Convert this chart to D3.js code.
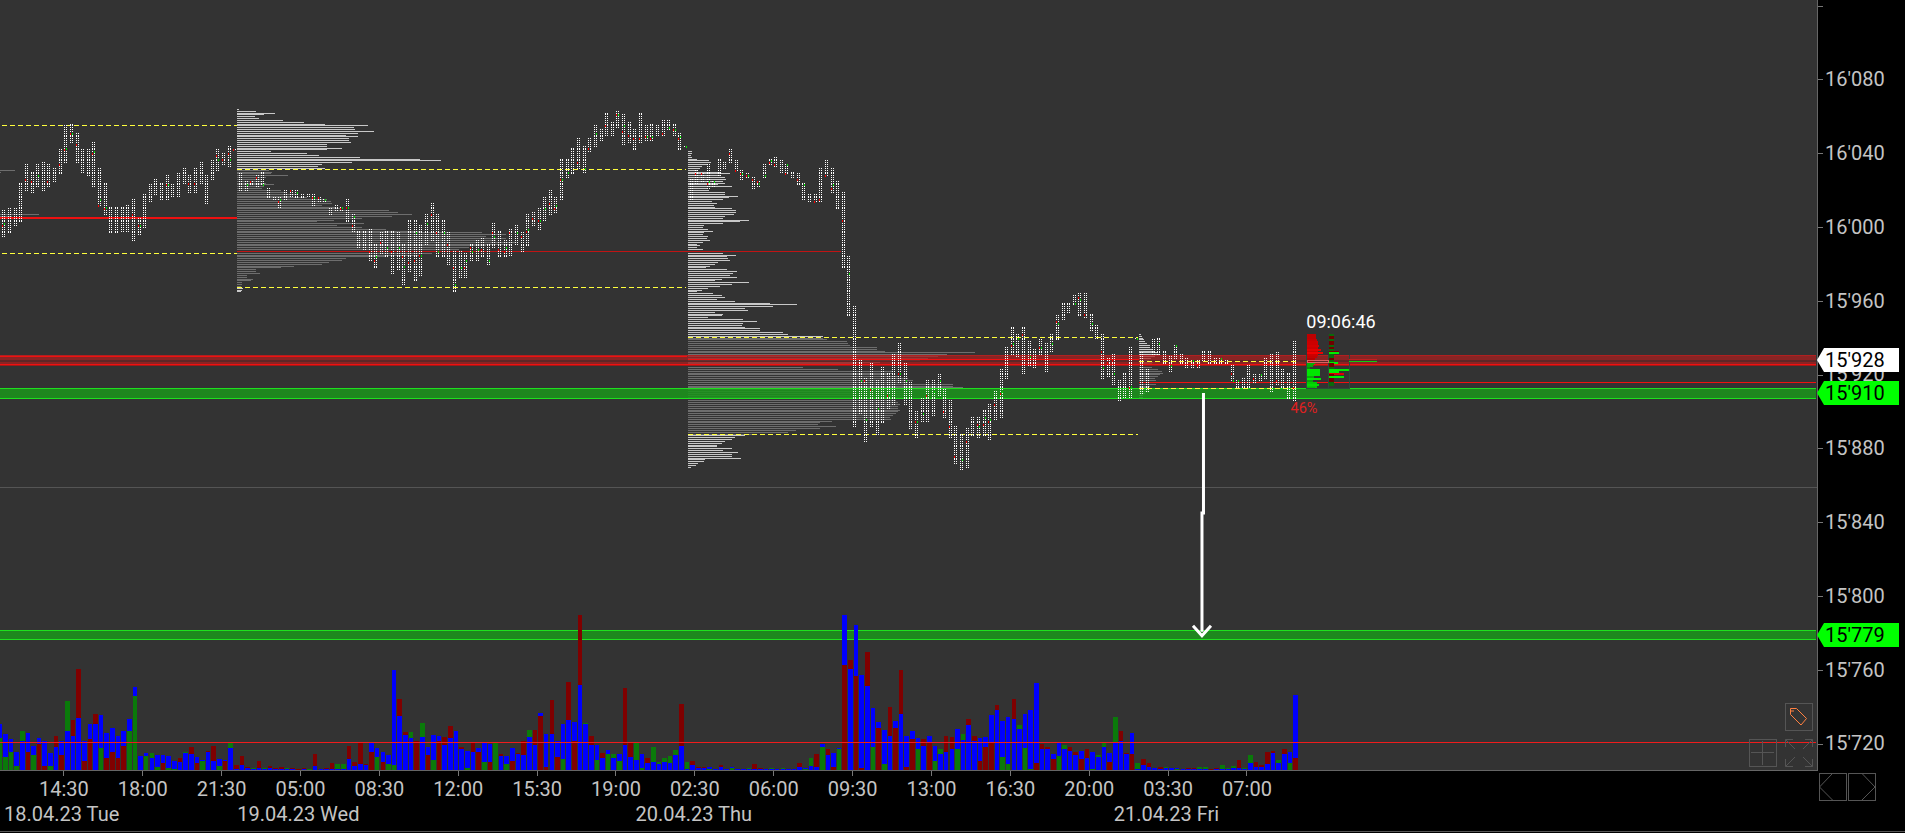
<!DOCTYPE html>
<html><head><meta charset="utf-8">
<script src="https://cdn.jsdelivr.net/npm/d3@7"></script>
<style>html,body{margin:0;padding:0;background:#000;overflow:hidden}svg{display:block}text{font-family:Roboto,sans-serif}</style>
</head><body><svg id="c" width="1905" height="833"></svg>
<script>
const priceTicks=[16120,16080,16040,16000,15960,15920,15880,15840,15800,15760,15720];
const timeLabels=["14:30","18:00","21:30","05:00","08:30","12:00","15:30","19:00","02:30","06:00","09:30","13:00","16:30","20:00","03:30","07:00"];
const dateLabels=[["18.04.23 Tue",11],["19.04.23 Wed",53],["20.04.23 Thu",123.2],["21.04.23 Fri",207.1]];
const highs=[16008,16009,16010,16010,16024,16034,16030,16034,16035,16034,16032,16042,16055,16056,16051,16042,16042,16046,16032,16024,16011,16011,16011,16012,16015,16005,16018,16023,16026,16024,16028,16023,16029,16032,16028,16032,16035,16028,16036,16042,16040,16044,16042,16029,16025,16025,16028,16030,16021,16016,16016,16020,16020,16020,16018,16018,16018,16016,16015,16010,16012,16011,16015,16007,15998,15998,15999,15991,15997,15998,15998,15997,15991,16004,16004,16001,16007,16013,16007,16004,15997,15987,15987,15986,15991,15993,15994,15991,16002,15998,15993,15999,16001,15997,16007,16008,16010,16016,16020,16016,16037,16037,16043,16048,16044,16048,16055,16053,16062,16057,16063,16061,16057,16053,16062,16055,16056,16055,16058,16058,16056,16051,16044,16026,16031,16029,16034,16025,16037,16035,16042,16036,16031,16029,16027,16025,16034,16037,16038,16036,16034,16030,16029,16024,16018,16018,16032,16036,16032,16025,16019,15984,15957,15928,15918,15926,15917,15924,15921,15931,15937,15926,15916,15900,15907,15917,15917,15920,15912,15906,15892,15888,15891,15897,15897,15901,15904,15911,15923,15935,15946,15942,15946,15938,15934,15939,15937,15942,15952,15959,15959,15963,15964,15964,15953,15947,15942,15929,15931,15917,15921,15935,15940,15932,15923,15939,15940,15933,15930,15936,15931,15929,15928,15928,15933,15933,15929,15929,15928,15925,15917,15918,15925,15920,15920,15929,15931,15932,15923,15921,15938];
const lows=[15996,15995,15997,16001,16003,16020,16019,16022,16020,16022,16025,16029,16035,16046,16035,16030,16028,16022,16012,16007,15997,15997,15998,15998,15993,15996,16000,16014,16018,16015,16015,16017,16017,16024,16019,16019,16024,16013,16026,16031,16034,16033,16042,16020,16020,16023,16022,16023,16016,16015,16011,16015,16017,16016,16016,16017,16012,16014,16014,16007,16009,16009,16003,15998,15989,15988,15982,15978,15986,15984,15975,15977,15969,15976,15971,15974,15991,15993,15984,15984,15980,15965,15973,15973,15982,15982,15984,15980,15989,15984,15984,15985,15991,15987,15990,16001,15999,16004,16007,16008,16015,16027,16029,16032,16030,16041,16044,16047,16050,16050,16054,16045,16046,16042,16046,16047,16047,16050,16050,16053,16050,16042,16044,16015,16024,16025,16021,16022,16028,16032,16035,16031,16026,16027,16021,16022,16027,16034,16033,16030,16029,16027,16023,16015,16014,16014,16014,16028,16019,16010,15978,15952,15892,15899,15884,15892,15888,15894,15902,15904,15916,15904,15891,15886,15895,15895,15898,15909,15897,15886,15872,15869,15870,15887,15886,15887,15885,15896,15897,15918,15931,15930,15921,15925,15924,15931,15922,15933,15939,15950,15954,15958,15952,15951,15944,15940,15918,15919,15915,15906,15908,15908,15940,15910,15911,15931,15931,15926,15922,15929,15926,15924,15924,15924,15928,15926,15926,15926,15926,15917,15913,15913,15913,15916,15917,15918,15911,15915,15913,15907,15906];
const redCells=[[1,16001],[5,16026],[6,16025],[9,16025],[11,16034],[12,16042],[13,16051],[14,16045],[17,16040],[18,16012],[19,16010],[24,16007],[25,16001],[30,16023],[34,16024],[35,16024],[39,16039],[40,16037],[41,16040],[42,16042],[45,16025],[46,16027],[50,16014],[52,16020],[56,16016],[57,16016],[61,16010],[62,16011],[63,16001],[66,15987],[67,15982],[68,15992],[70,15987],[72,15984],[73,15981],[74,15982],[75,15985],[77,16007],[78,15997],[80,15991],[81,15978],[83,15978],[84,15989],[86,15988],[88,15997],[89,15988],[90,15987],[91,15997],[93,15995],[94,15998],[95,16005],[96,16004],[98,16013],[99,16010],[100,16026],[103,16035],[105,16043],[108,16055],[110,16061],[111,16052],[112,16050],[113,16048],[114,16048],[115,16049],[116,16048],[118,16051],[120,16053],[121,16048],[124,16029],[125,16029],[126,16024],[130,16040],[131,16031],[132,16029],[133,16028],[134,16026],[135,16025],[137,16035],[138,16034],[140,16029],[142,16026],[145,16014],[146,16015],[147,16028],[148,16021],[150,16004],[154,15917],[155,15912],[158,15909],[160,15921],[163,15895],[165,15909],[168,15900],[169,15892],[170,15876],[172,15884],[174,15893],[175,15893],[176,15895],[177,15904],[178,15910],[180,15936],[182,15942],[185,15935],[188,15949],[192,15962],[193,15953],[196,15933],[197,15927],[198,15928],[201,15913],[213,15925],[219,15921],[223,15918],[227,15917],[230,15913]];
const greenCells=[[1,16002],[7,16028],[12,16043],[13,16051],[17,16041],[18,16015],[19,16011],[25,16001],[30,16023],[39,16037],[41,16037],[44,16023],[47,16023],[50,16015],[53,16019],[56,16016],[58,16015],[61,16011],[62,16011],[63,16006],[67,15984],[69,15989],[71,15989],[72,15979],[74,15997],[75,15985],[76,16002],[78,15987],[79,15997],[81,15969],[82,15978],[83,15982],[84,15987],[85,15988],[87,15982],[88,15995],[90,15989],[92,15997],[94,15999],[96,16004],[97,16010],[99,16012],[100,16026],[101,16030],[104,16032],[106,16051],[110,16061],[111,16055],[115,16049],[116,16049],[119,16054],[120,16053],[121,16049],[122,16044],[126,16025],[127,16025],[132,16029],[133,16028],[135,16024],[136,16028],[137,16036],[140,16034],[143,16023],[148,16023],[151,15975],[153,15917],[154,15896],[156,15902],[158,15909],[160,15921],[161,15917],[163,15895],[164,15899],[166,15911],[167,15917],[171,15874],[174,15892],[175,15897],[176,15896],[178,15911],[180,15937],[181,15940],[183,15930],[185,15935],[187,15937],[188,15948],[191,15959],[192,15961],[194,15948],[196,15924],[198,15921],[201,15914],[202,15940],[206,15937],[208,15925],[209,15936],[212,15928],[217,15929],[219,15917],[220,15917],[224,15920]];
const blueVol=[139,109,94,55,88,112,73,97,88,52,70,88,118,103,157,88,139,139,166,112,127,103,118,154,250,43,52,37,46,46,43,28,25,52,49,40,31,55,28,34,31,67,4,16,7,4,7,4,7,4,4,4,4,4,4,4,13,4,4,4,4,4,34,13,19,16,85,67,55,46,301,163,106,97,88,100,70,106,103,76,97,118,64,58,55,67,82,79,85,43,43,67,49,46,100,76,172,109,109,88,139,151,145,256,139,76,76,37,61,37,49,76,40,31,49,22,25,19,25,22,46,73,4,16,7,7,10,4,10,4,10,4,4,4,4,4,4,4,4,4,4,4,10,7,13,10,79,46,52,67,466,304,436,286,253,187,145,121,103,148,169,103,118,97,73,103,73,49,55,64,124,91,136,88,97,100,166,181,148,160,154,124,169,181,262,64,64,49,85,64,58,46,58,37,55,40,70,52,82,88,49,112,4,16,10,7,4,7,7,7,4,4,4,4,4,4,4,4,4,7,7,4,22,10,10,19,52,22,49,55,226];
// overlay volume at the same time slot: positive = dark red, negative = green
const overlayVol=[-97,-40,-55,-13,-118,55,-46,79,13,-13,103,46,-208,151,304,28,94,169,-67,37,55,37,73,-118,-223,0,-43,-52,-10,22,-7,-4,37,-55,70,22,-28,58,73,-13,28,-82,16,43,10,-7,28,-7,13,7,10,-7,7,4,7,-4,49,0,7,22,-19,-19,73,25,82,19,55,-40,25,-19,-16,214,115,-115,88,-142,46,-31,88,100,133,0,70,-7,82,55,-25,25,-82,49,-19,28,52,88,-121,121,163,10,211,40,-34,265,88,466,-142,103,-31,52,-49,-49,-28,247,82,-85,-7,37,-70,-25,-37,-43,-61,199,-25,28,10,10,-4,0,16,0,-7,0,0,-7,19,7,0,-7,0,-7,0,0,22,-4,-37,49,-70,64,10,-64,316,331,283,7,355,-70,127,-19,190,127,301,10,94,-64,94,82,-28,-64,103,100,-64,-109,154,103,28,70,82,196,-40,-19,214,-136,-67,-4,22,79,70,34,-43,-76,70,55,34,64,-4,-46,-82,25,-160,118,52,49,-22,34,22,0,10,-10,0,-4,0,7,7,-10,-10,4,7,-16,-7,-13,31,-7,-46,25,16,55,58,-31,64,-22,37];
// Volume profiles, one row per point, from the top price down
const prof0Rows=[[16031,15],[16030,1],[16007,39],[16006,12]];
const prof1Top=16064, prof1VA=[16031,15968];
const prof1=[2,19,38,27,18,22,46,67,88,131,117,118,137,121,109,121,112,112,114,90,90,105,90,34,70,82,123,183,204,115,85,81,88,32,35,34,51,29,25,27,29,37,27,25,44,49,60,54,70,90,94,95,85,99,104,152,161,175,155,125,97,80,127,100,125,149,185,245,269,249,269,259,279,274,249,232,222,212,195,182,149,109,105,92,85,57,44,19,19,23,10,10,16,14,5,5,4,6,5,4];
const prof2Top=16041, prof2VA=[15940,15888];
const prof2=[4,4,3,4,9,21,23,20,14,12,9,32,42,32,37,38,35,37,30,44,20,21,37,37,50,41,35,24,29,26,27,44,48,48,46,37,35,61,52,35,16,15,20,25,16,15,20,19,22,15,9,12,9,15,22,35,48,39,40,42,30,27,22,18,39,49,45,42,49,34,27,61,44,32,20,14,9,25,34,37,29,47,82,109,85,57,60,27,35,34,20,55,69,55,54,57,72,72,95,100,135,135,139,159,160,162,189,189,197,287,259,250,240,232,192,165,155,115,150,205,205,200,210,220,225,220,265,265,275,262,225,225,218,218,218,208,210,212,210,210,212,210,208,205,202,203,144,132,130,148,132,108,100,67,57,47,44,37,34,29,29,44,35,50,44,44,53,17,16,10,8,3];
const prof3Top=15942, prof3VA=[15927,15913];
const prof3=[2,3,4,5,6,8,11,11,13,16,18,20,16,12,10,14,13,11,13,19,23,24,21,19,16,17,23,17,11,10,9,9,6,4,4];
// Current bar ladder: top price down, negative = sell (red), positive = buy (green)
const ladderTop=15942;
const ladderA=[-9,-9,-9,-10,-11,-11,-12,-11,-14,-11,-16,-11,-10,-8,-6,8,7,6,3,13,13,13,13,7,14,6,10,12,10,8];
const ladderB=[2,-5,-5,2,-5,-5,2,-5,2,-10,10,2,2,-2,2,9,-5,-5,2,20,10,-15,-5,15,-5,-5,2,2,0,0];
// Session lines: [price, startBar, endBar]
const yellowLines=[[16055,0.4,42.2],[15986,0.4,42.2],[16031.2,42.2,121.9],[15967.4,42.2,121.9],[15940.2,122.2,202],[15887.6,122.2,202],[15927.1,202.2,230.4],[15912.5,202.2,230.4]];
const pocLines=[[16005.6,0,42.2,2,"#ee1010"],[15986.7,42.2,149.4,1,"#c01414"],[15928.5,122.2,202.2,1,"#f01010"]];
const redLevels=[15928];const greenLevels=[15910,15779];const levelHalf=2.5;
const flags=[[15928,"15'928","#ffffff"],[15910,"15'910","#00ff00"],[15779,"15'779","#00ff00"]];
const thinRed=15721, grayLine=15859, lastPocPrice=15916;

const W=1905,H=833,plotR=1817.5,plotB=770.5;
const svg=d3.select("#c");
const yP=d3.scaleLinear().domain([15720,16080]).range([743.5,79.3]);
const xBar=d3.scaleLinear().domain([0,230]).range([-0.3,1295.5]);
const yV=d3.scaleLinear().domain([0,466]).range([plotB,615]);
const wPx=d3.scaleLinear().domain([0,100]).range([0,100]);
const fx=n=>xBar(n), fy=p=>Math.round(yP(p));
const crisp=g=>g.attr("shape-rendering","crispEdges");

svg.append("rect").attr("width",W).attr("height",H).attr("fill","#000");
svg.append("rect").attr("width",plotR).attr("height",plotB).attr("fill","#333333");

// Profiles
const pg=svg.append("g").call(crisp);
function profile(vals,top,va,start){
  pg.selectAll(null).data(vals.map((v,k)=>({v,p:top-k}))).join("rect")
    .attr("x",start).attr("y",d=>fy(d.p)).attr("height",1).attr("width",d=>wPx(d.v))
    .attr("fill",d=>(d.p<=va[0]&&d.p>=va[1])?"#6e6e6e":"#c8c8c8");
}
profile(prof1,prof1Top,prof1VA,fx(42.2));
profile(prof2,prof2Top,prof2VA,fx(122.2));
profile(prof3,prof3Top,prof3VA,fx(202.2));
pg.selectAll(null).data(prof0Rows).join("rect").attr("x",0).attr("y",d=>fy(d[0])).attr("height",1).attr("width",d=>d[1]).attr("fill","#6e6e6e");

// Horizontal levels
const lg=svg.append("g").call(crisp);
lg.append("rect").attr("x",0).attr("width",plotR).attr("y",fy(grayLine)).attr("height",1).attr("fill","#555");
redLevels.forEach(l=>{
  const a=Math.round(yP(l+levelHalf)),b=Math.round(yP(l-levelHalf));
  lg.append("rect").attr("x",0).attr("width",plotR-2).attr("y",a).attr("height",b-a).attr("fill","rgba(175,30,30,.7)");
  lg.append("rect").attr("x",0).attr("width",plotR-2).attr("y",a).attr("height",1).attr("fill","#b02020");
  lg.append("rect").attr("x",0).attr("width",plotR-2).attr("y",a+5).attr("height",2).attr("fill","rgba(60,40,40,.55)");
  lg.append("rect").attr("x",0).attr("width",fx(122)).attr("y",a+1).attr("height",1).attr("fill","#f01010");
  lg.append("rect").attr("x",0).attr("width",plotR-2).attr("y",b).attr("height",1).attr("fill","#f01010");
  lg.append("rect").attr("x",0).attr("width",plotR-2).attr("y",b+1).attr("height",1).attr("fill","#a01818");
});
greenLevels.forEach(l=>{
  const a=Math.round(yP(l+levelHalf)),b=Math.round(yP(l-levelHalf));
  lg.append("rect").attr("x",0).attr("width",plotR-2).attr("y",a).attr("height",b-a).attr("fill","rgba(27,148,27,.87)");
  lg.append("rect").attr("x",0).attr("width",plotR-2).attr("y",a).attr("height",1).attr("fill","#1ee01e");
  lg.append("rect").attr("x",0).attr("width",plotR-2).attr("y",b).attr("height",1).attr("fill","#1ee01e");
});
lg.selectAll(null).data(pocLines).join("rect").attr("x",d=>fx(d[1])).attr("width",d=>fx(d[2])-fx(d[1]))
  .attr("y",d=>fy(d[0])).attr("height",d=>d[3]).attr("fill",d=>d[4]);
lg.append("rect").attr("x",fx(202.2)).attr("width",plotR-2-fx(202.2)).attr("y",fy(lastPocPrice)).attr("height",1).attr("fill","#f01010");
svg.append("g").selectAll("line").data(yellowLines).join("line")
  .attr("x1",d=>fx(d[1])).attr("x2",d=>fx(d[2])).attr("y1",d=>fy(d[0])+.5).attr("y2",d=>fy(d[0])+.5)
  .attr("stroke","#ffff3c").attr("stroke-dasharray","5 3").attr("shape-rendering","crispEdges");

// Volume
const vg=svg.append("g").call(crisp);
const volRows=[];
blueVol.forEach((b,i)=>{const o=overlayVol[i];
  const parts=[{v:b,c:"#0000ff",i},{v:Math.abs(o),c:o>0?"#800000":"#0a7a0a",i}].filter(d=>d.v>0).sort((a,c)=>c.v-a.v);
  volRows.push(...parts);});
vg.selectAll(null).data(volRows).join("rect").attr("x",d=>xBar(d.i)-2.3).attr("width",4.6)
  .attr("y",d=>yV(d.v)).attr("height",d=>plotB-yV(d.v)).attr("fill",d=>d.c);
svg.append("rect").attr("x",0).attr("width",plotR-2).attr("y",Math.round(yP(thinRed))).attr("height",1).attr("fill","#f01c1c").call(crisp);

// Price cells: two dotted columns per bar
const cells=[];
highs.forEach((h,i)=>{for(let p=lows[i];p<=h;p++){cells.push({i,p,s:-1});cells.push({i,p,s:1});}});
const cx=i=>Math.round(xBar(i)-2);
const dg=svg.append("g").call(crisp);
dg.selectAll(null).data(cells).join("rect").attr("x",d=>cx(d.i)+d.s).attr("y",d=>fy(d.p)).attr("width",1).attr("height",1).attr("fill","#fff");
dg.selectAll(null).data(redCells).join("rect").attr("x",d=>cx(d[0])-1).attr("y",d=>fy(d[1])).attr("width",1).attr("height",2).attr("fill","#ff0000");
dg.selectAll(null).data(greenCells).join("rect").attr("x",d=>cx(d[0])+1).attr("y",d=>fy(d[1])).attr("width",1).attr("height",2).attr("fill","#00e000");

// Current ladder
const lx0=1307,lx1=1329;
const lad=svg.append("g").call(crisp);
const cRed=d3.scaleLinear().domain([6,16]).range(["#a80000","#f00000"]);
const cGrn=d3.scaleLinear().domain([3,14]).range(["#0a8a0a","#00ee00"]);
lad.selectAll(null).data(ladderA.map((v,k)=>({v,p:ladderTop-k}))).join("rect").attr("x",lx0)
  .attr("y",d=>fy(d.p)).attr("height",2).attr("width",d=>Math.abs(d.v)).attr("fill",d=>d.v<0?cRed(-d.v):cGrn(d.v));
lad.selectAll(null).data(ladderB.map((v,k)=>({v,p:ladderTop-k})).filter(d=>d.v!==0)).join("rect").attr("x",lx1)
  .attr("y",d=>fy(d.p)).attr("height",2).attr("width",d=>Math.max(5,Math.abs(d.v)))
  .attr("fill",d=>d.v<0?(d.v<-10?"#e00000":"#700000"):(d.v>=9?"#00ee00":"#0a6a0a"));
const ladTop=fy(15928)-5,ladBot=fy(15912.5);
lad.append("path").attr("d",`M${lx0-1} ${ladTop}V${ladBot}H1349V${ladTop}M1328.5 ${ladTop}V${ladBot}`).attr("fill","none").attr("stroke","#2c4a3a");
lad.append("rect").attr("x",lx0).attr("y",fy(15928)).attr("width",21).attr("height",2).attr("fill","none").attr("stroke","#d86060");
lad.append("rect").attr("x",1349).attr("y",fy(15928)-1).attr("width",28).attr("height",1).attr("fill","#c02020");
lad.append("rect").attr("x",1349).attr("y",fy(15928)+1).attr("width",28).attr("height",1).attr("fill","#10d010");

// Arrow from the 15'910 level to the 15'779 target
const aBar=213.4,ax=xBar(aBar);
svg.append("path").attr("d",`M${ax+1.5} ${yP(15910)}V${yP(15845)}H${ax}V${yP(15779)-3}`).attr("fill","none").attr("stroke","#fff").attr("stroke-width",3);
svg.append("path").attr("d",`M${ax-9} ${yP(15779)-9}L${ax} ${yP(15779)+1}L${ax+9} ${yP(15779)-9}`).attr("fill","none").attr("stroke","#fff").attr("stroke-width",3);

svg.append("text").attr("x",1341).attr("y",yP(15928)-32).attr("text-anchor","middle").attr("font-size",18).attr("fill","#fff").text("09:06:46");
svg.append("text").attr("x",1304).attr("y",yP(15910)+20).attr("text-anchor","middle").attr("font-size",14.5).attr("fill","#e02020").text("46%");

// Axes
const fmtP=d=>d3.format("d")(d).replace(/^(\d\d)(\d{3})$/,"$1'$2");
const yAxis=d3.axisRight(yP).tickValues(priceTicks).tickSize(5).tickPadding(2).tickFormat(d=>d>=16100?"":fmtP(d));
const ya=svg.append("g").attr("transform",`translate(${plotR},0)`).call(yAxis);
ya.select(".domain").remove();
ya.selectAll("line").attr("stroke","#777").attr("shape-rendering","crispEdges");
ya.selectAll("text").attr("font-size",20).attr("fill","#c4c4c4").attr("font-family","Roboto").attr("x",7.5);
const tickIdx=timeLabels.map((_,k)=>11.3+14*k);
const xAxis=d3.axisBottom(xBar).tickValues(tickIdx).tickSize(5).tickPadding(6).tickFormat((d,k)=>timeLabels[k]);
const xa=svg.append("g").attr("transform",`translate(0,${plotB})`).call(xAxis);
xa.select(".domain").remove();
xa.selectAll("line").attr("stroke","#777").attr("shape-rendering","crispEdges");
xa.selectAll("text").attr("font-size",20).attr("fill","#c4c4c4").attr("font-family","Roboto").attr("y",11).attr("dy","14.5");
svg.append("g").selectAll("text").data(dateLabels).join("text").attr("x",d=>xBar(d[1])).attr("y",821).attr("text-anchor","middle")
  .attr("font-size",20).attr("fill","#c4c4c4").text(d=>d[0]);
const frame=svg.append("g").call(crisp);
frame.append("rect").attr("x",plotR-.5).attr("y",0).attr("width",1).attr("height",plotB).attr("fill","#666");
frame.append("rect").attr("x",0).attr("y",plotB-.5).attr("width",plotR).attr("height",1).attr("fill","#666");
frame.append("rect").attr("x",0).attr("y",H-2).attr("width",W).attr("height",1).attr("fill","#555");

// Price flags
const fg=svg.append("g");
fg.selectAll("path").data(flags).join("path").attr("fill",d=>d[2])
  .attr("d",d=>{const c=Math.round(yP(d[0]));return `M1817 ${c}L1824 ${c-12}H1899V${c+12}H1824Z`;});
fg.selectAll("text").data(flags).join("text").attr("x",1825).attr("y",d=>yP(d[0])+7).attr("font-size",20).attr("fill","#000").text(d=>d[1]);

// Chart widgets
const ui=svg.append("g").attr("fill","none").attr("stroke","#555").attr("stroke-width",1);
ui.append("rect").attr("x",1785.5).attr("y",703.5).attr("width",27).attr("height",27);
ui.append("path").attr("stroke","#ff8040").attr("d","M1790.5 708.5H1796.5L1806.5 718.5L1801 725L1790.5 714.5ZM1791 711H1794");
ui.append("rect").attr("x",1749.5).attr("y",739.5).attr("width",27).attr("height",27);
ui.append("path").attr("d","M1751 752.5H1774M1762.5 741V765");
ui.append("path").attr("d","M1785.5 747V739.5H1793M1785.5 739.5L1795 749M1812.5 747V739.5H1805M1812.5 739.5L1803 749M1785.5 759V766.5H1793M1785.5 766.5L1795 757M1812.5 759V766.5H1805M1812.5 766.5L1803 757");
ui.append("rect").attr("x",1819.5).attr("y",773.5).attr("width",27).attr("height",27);
ui.append("rect").attr("x",1848.5).attr("y",773.5).attr("width",27).attr("height",27);
ui.append("path").attr("d","M1832 774L1819.5 787L1832.5 800M1862.5 774L1875 787L1862 800");
</script></body></html>
